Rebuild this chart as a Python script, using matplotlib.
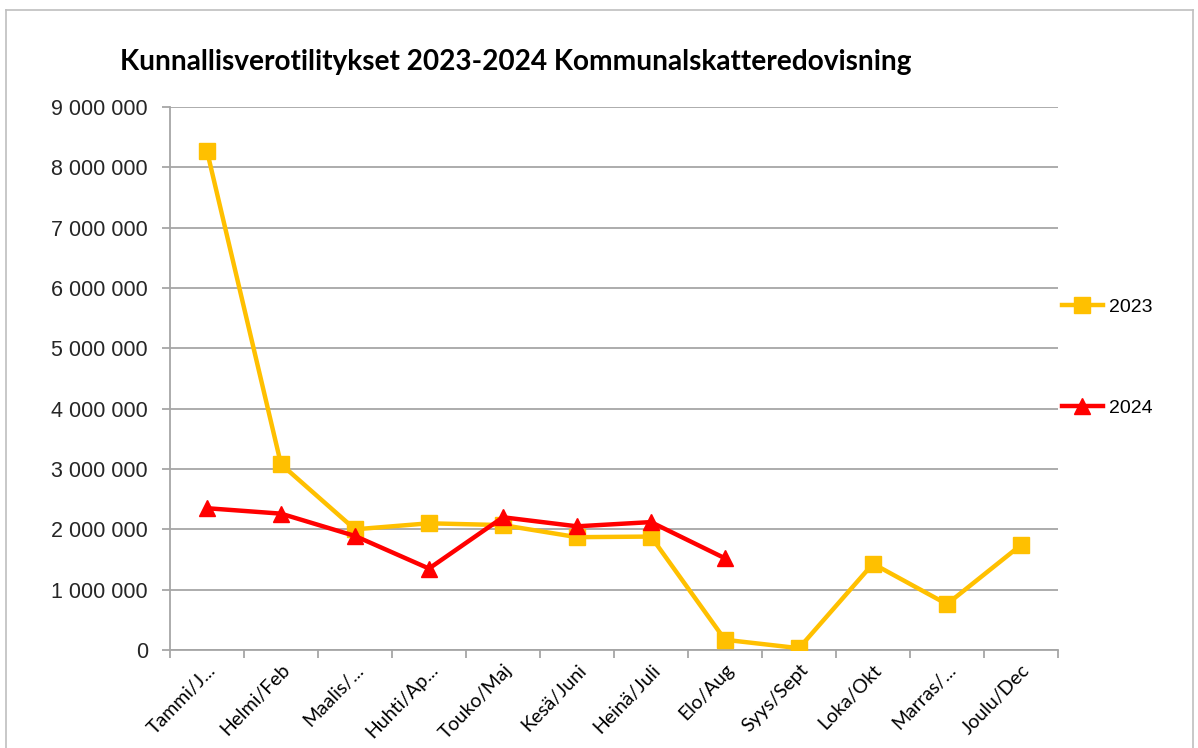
import matplotlib.pyplot as plt
import matplotlib.lines as mlines
from matplotlib.ticker import FuncFormatter, FixedLocator

months = ["Tammi/J...", "Helmi/Feb", "Maalis/...", "Huhti/Ap...", "Touko/Maj",
          "Kesä/Juni", "Heinä/Juli", "Elo/Aug", "Syys/Sept", "Loka/Okt",
          "Marras/...", "Joulu/Dec"]
values_2023 = [8270000, 3080000, 2000000, 2100000, 2070000, 1870000,
               1880000, 170000, 30000, 1430000, 760000, 1740000]
values_2024 = [2350000, 2260000, 1890000, 1350000, 2200000, 2050000,
               2120000, 1520000]
title = "Kunnallisverotilitykset 2023-2024 Kommunalskatteredovisning"

fig = plt.figure(figsize=(11.98, 7.48), dpi=100)
ax = fig.add_axes([0.1419, 0.131, 0.7412, 0.726])

# grey frame round the whole chart
for xs, ys in [([0.005, 0.005], [0.0, 0.986]), ([0.005, 0.996], [0.986, 0.986]),
               ([0.996, 0.996], [0.0, 0.986])]:
    fig.add_artist(mlines.Line2D(xs, ys, color="#bfbfbf", lw=1.2,
                                 transform=fig.transFigure))

x = list(range(len(months)))
l23, = ax.plot(x, values_2023, color="#FFC000", lw=3.2, marker="s",
               markersize=11, label="2023", zorder=3)
l24, = ax.plot(x[:len(values_2024)], values_2024, color="#FF0000", lw=3.2,
               marker="^", markersize=12, label="2024", zorder=4)

ax.set_xlim(-0.5, 11.5)
ax.set_ylim(0, 9000000)
ax.set_yticks(range(0, 9000001, 1000000))
ax.yaxis.set_major_formatter(FuncFormatter(lambda v, p: f"{int(v):,}".replace(",", " ")))
ax.grid(axis="y", color="#a6a6a6", lw=1.3)
ax.set_axisbelow(True)

for s in ["top", "right"]:
    ax.spines[s].set_visible(False)
for s in ["left", "bottom"]:
    ax.spines[s].set_color("#a6a6a6")
    ax.spines[s].set_linewidth(1.3)

ax.set_xticks(x)
ax.set_xticklabels(months, rotation=46, ha="right", rotation_mode="anchor",
                   fontsize=14, family="Lato")
ax.tick_params(axis="x", which="major", length=0, pad=8)
ax.xaxis.set_minor_locator(FixedLocator([i - 0.5 for i in range(13)]))
ax.tick_params(axis="x", which="minor", length=6, width=1.3, color="#a6a6a6")
ax.tick_params(axis="y", length=6, width=1.3, color="#a6a6a6", labelsize=15.5,
               pad=10)
for t in ax.get_yticklabels():
    t.set_family("Liberation Sans")
    t.set_color("#262626")

fig.text(0.1, 0.917, title, fontsize=20.2, fontweight="bold", family="Lato",
         ha="left", va="center")

ax.legend(handles=[l23, l24], loc="center left", bbox_to_anchor=(1.0, 0.538),
          frameon=False, labelspacing=4.3, handlelength=2.1, handletextpad=0.3,
          borderaxespad=0, borderpad=0.2,
          prop={"family": "Liberation Sans", "size": 14})

fig.savefig("out.png", dpi=100)
